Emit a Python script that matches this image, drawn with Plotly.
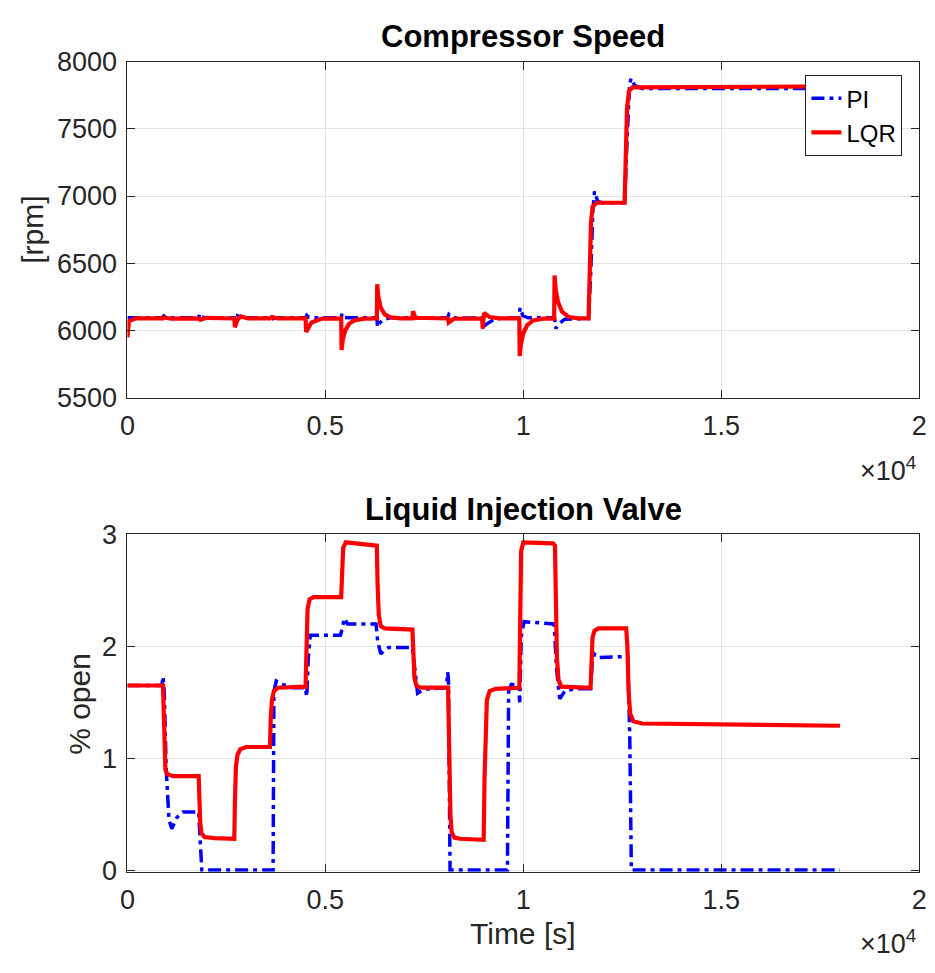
import plotly.graph_objects as go

# Compressor speed [rpm] vs time [s]
t_speed_pi = [0, 880, 920, 980, 1060, 1800, 1830, 1880, 1980, 2700,
              2720, 2780, 2880, 3600, 3640, 3760, 4500, 4530, 4580, 4700,
              5400, 5420, 5470, 5580, 6300, 6320, 6380, 6500, 6650, 7200,
              7230, 7330, 8090, 8120, 8200, 8320, 8960, 8990, 9080, 9250,
              9450, 9890, 9920, 9990, 10120, 10790, 10820, 10900, 11050, 11650,
              11700, 11760, 11800, 11880, 12000, 12560, 12620, 12680, 12720, 12820,
              13000, 18000]
speed_pi = [6095, 6095, 6108, 6092, 6095, 6095, 6125, 6100, 6095, 6095,
            6055, 6110, 6095, 6095, 6085, 6095, 6095, 6112, 6098, 6095,
            6095, 6125, 6098, 6095, 6095, 6025, 6060, 6085, 6095, 6095,
            6105, 6095, 6095, 6120, 6100, 6092, 6095, 6030, 6050, 6080,
            6092, 6095, 6170, 6110, 6095, 6095, 6015, 6050, 6085, 6090,
            6400, 6900, 7035, 6960, 6950, 6950, 7400, 7800, 7875, 7820,
            7800, 7800]

t_speed_lqr = [0, 40, 200, 900, 940, 1100, 1800, 1840, 2000, 2700,
               2715, 2780, 2860, 3050, 3600, 3650, 3800, 4500, 4515, 4650,
               4900, 5400, 5410, 5440, 5500, 5600, 5750, 6000, 6300, 6310,
               6340, 6400, 6500, 6650, 6900, 7200, 7215, 7270, 8100, 8115,
               8250, 8960, 8975, 9010, 9150, 9400, 9900, 9910, 9940, 10000,
               10100, 10250, 10500, 10780, 10790, 10820, 10880, 10980, 11150, 11400,
               11650, 11680, 11710, 11750, 11850, 12560, 12590, 12620, 12670, 12760,
               18000]
speed_lqr = [5950, 6070, 6090, 6090, 6098, 6088, 6090, 6080, 6095, 6090,
             6025, 6080, 6105, 6090, 6090, 6100, 6090, 6090, 5990, 6060,
             6088, 6090, 5855, 5930, 6000, 6050, 6078, 6088, 6090, 6345,
             6250, 6170, 6120, 6098, 6090, 6090, 6145, 6095, 6090, 6060,
             6088, 6090, 6015, 6130, 6100, 6090, 6090, 5810, 5900, 5980,
             6040, 6075, 6088, 6088, 6410, 6300, 6210, 6140, 6100, 6090,
             6090, 6400, 6800, 6920, 6950, 6950, 7300, 7650, 7780, 7808,
             7815]

# Liquid injection valve [% open] vs time [s]
t_valve_pi = [0, 870, 900, 930, 980, 1050, 1120, 1250, 1400, 1800,
              1840, 1880, 3680, 3700, 3760, 3900, 4200, 4490, 4530, 4570,
              4620, 5380, 5420, 5480, 5560, 6280, 6320, 6400, 6470, 6600,
              7200, 7250, 7330, 7420, 7600, 8060, 8090, 8110, 8150, 9600,
              9630, 9700, 9880, 9910, 9950, 10020, 10780, 10840, 10920, 11050,
              11300, 11700, 11740, 11800, 11900, 12640, 12690, 12730, 18000]
valve_pi = [1.65, 1.65, 1.73, 1.6, 0.9, 0.45, 0.37, 0.47, 0.52, 0.52,
            0.25, 0.0, 0.0, 1.6, 1.69, 1.66, 1.63, 1.63, 1.55, 1.9,
            2.1, 2.1, 2.15, 2.25, 2.2, 2.2, 2.05, 1.93, 1.96, 1.99,
            1.99, 1.85, 1.58, 1.6, 1.62, 1.63, 1.77, 1.7, 0.0, 0.0,
            1.6, 1.66, 1.65, 1.5, 2.1, 2.22, 2.2, 1.8, 1.53, 1.6,
            1.62, 1.62, 1.85, 1.93, 1.9, 1.91, 1.2, 0.0, 0.0]

t_valve_lqr = [0, 900, 915, 935, 960, 1000, 1150, 1800, 1815, 1840,
               1870, 1950, 2200, 2700, 2715, 2740, 2780, 2850, 3000, 3600,
               3620, 3650, 3700, 3800, 4500, 4520, 4550, 4600, 4700, 5400,
               5420, 5450, 5520, 6250, 6300, 6320, 6350, 6400, 6500, 7200,
               7220, 7250, 7300, 7400, 8100, 8130, 8160, 8190, 8260, 8400,
               9000, 9020, 9045, 9080, 9150, 9300, 9900, 9920, 9945, 10000,
               10750, 10800, 10820, 10850, 10890, 10960, 11700, 11720, 11750, 11800,
               11900, 12600, 12630, 12660, 12700, 12780, 13000, 18000]
valve_lqr = [1.65, 1.65, 1.45, 1.05, 0.9, 0.86, 0.84, 0.84, 0.65, 0.42,
             0.33, 0.295, 0.285, 0.28, 0.6, 0.92, 1.03, 1.08, 1.1, 1.1,
             1.35, 1.52, 1.6, 1.63, 1.64, 2.05, 2.33, 2.42, 2.44, 2.44,
             2.75, 2.88, 2.93, 2.91, 2.9, 2.55, 2.28, 2.18, 2.16, 2.15,
             1.9, 1.72, 1.65, 1.63, 1.63, 1.0, 0.5, 0.34, 0.29, 0.28,
             0.27, 0.8, 1.3, 1.52, 1.6, 1.62, 1.63, 2.5, 2.85, 2.93,
             2.92, 2.9, 2.5, 1.9, 1.7, 1.64, 1.63, 1.9, 2.08, 2.14,
             2.16, 2.16, 2.0, 1.6, 1.4, 1.33, 1.31, 1.29]

# axis ticks (x is shown in units of 1e4 s, MATLAB style)
x_tickvals = [0, 5000, 10000, 15000, 20000]
x_ticktext = ["0", "0.5", "1", "1.5", "2"]
speed_ticks = [5500, 6000, 6500, 7000, 7500, 8000]
valve_ticks = [0, 1, 2, 3]

FONT = "Liberation Sans, Arial, sans-serif"
INK = "#262626"
GRID = "#e3e3e3"
W, H = 935, 973
PI_LINE = dict(color="#0000ff", width=3.5, dash="13px,5px,4px,5px")
LQR_LINE = dict(color="#ff0000", width=4.2)

fig = go.Figure()

fig.add_trace(go.Scatter(x=t_speed_pi, y=speed_pi, name="PI", mode="lines",
                         line=PI_LINE, xaxis="x", yaxis="y"))
fig.add_trace(go.Scatter(x=t_speed_lqr, y=speed_lqr, name="LQR", mode="lines",
                         line=LQR_LINE, xaxis="x", yaxis="y"))
fig.add_trace(go.Scatter(x=t_valve_pi, y=valve_pi, name="PI", mode="lines", showlegend=False,
                         line=PI_LINE, xaxis="x2", yaxis="y2"))
fig.add_trace(go.Scatter(x=t_valve_lqr, y=valve_lqr, name="LQR", mode="lines", showlegend=False,
                         line=LQR_LINE, xaxis="x2", yaxis="y2"))

# pixel boxes of the two axes in the reference
x0, x1 = 121.5, 927
top_y0, top_y1 = 48, 395
bot_y0, bot_y1 = 536, 884

axis_common = dict(showline=True, linecolor=INK, linewidth=1, mirror="ticks",
                   ticks="inside", ticklen=8, tickcolor=INK,
                   showgrid=True, gridcolor=GRID, gridwidth=1, zeroline=False,
                   tickfont=dict(family=FONT, size=27, color=INK))

fig.update_layout(
    width=W, height=H,
    margin=dict(l=0, r=0, t=0, b=0),
    paper_bgcolor="white", plot_bgcolor="white",
    font=dict(family=FONT, color=INK),
    xaxis=dict(domain=[x0 / W, x1 / W], range=[0, 20000], anchor="y",
               tickvals=x_tickvals, ticktext=x_ticktext, ticklabelstandoff=4, **axis_common),
    yaxis=dict(domain=[1 - top_y1 / H, 1 - top_y0 / H], range=[5500, 8000], anchor="x",
               tickvals=speed_ticks, ticklabelstandoff=4, **axis_common),
    xaxis2=dict(domain=[x0 / W, x1 / W], range=[0, 20000], anchor="y2",
                tickvals=x_tickvals, ticktext=x_ticktext, ticklabelstandoff=4, **axis_common),
    # tiny pad below 0 so the PI line resting on zero is not half clipped
    yaxis2=dict(domain=[1 - bot_y1 / H, 1 - bot_y0 / H], range=[-0.015, 3], anchor="x2",
                tickvals=valve_ticks, ticklabelstandoff=4, **axis_common),
    legend=dict(x=910 / W, y=1 - 62 / H, xanchor="right", yanchor="top",
                bgcolor="white", bordercolor=INK, borderwidth=1,
                font=dict(family=FONT, size=24, color="black"),
                itemwidth=30, tracegroupgap=0),
    showlegend=True,
)

mid = (x0 + x1) / 2 / W
texts = [
    ("<b>Compressor Speed</b>", mid, 22, 31, "black"),
    ("<b>Liquid Injection Valve</b>", mid, 510, 31, "black"),
    ("Time [s]", mid, 948, 30, INK),
    ("×10<sup>4</sup>", 895 / W, 468, 27, INK),
    ("×10<sup>4</sup>", 895 / W, 956, 27, INK),
]
for text, x, y, size, color in texts:
    fig.add_annotation(text=text, x=x, y=1 - y / H, xref="paper", yref="paper",
                       showarrow=False, xanchor="center", yanchor="middle",
                       font=dict(family=FONT, size=size, color=color))

fig.add_annotation(text="[rpm]", x=25 / W, y=1 - 222 / H, xref="paper", yref="paper",
                   showarrow=False, textangle=-90, xanchor="center", yanchor="middle",
                   font=dict(family=FONT, size=30, color=INK))
fig.add_annotation(text="% open", x=72 / W, y=1 - 711 / H, xref="paper", yref="paper",
                   showarrow=False, textangle=-90, xanchor="center", yanchor="middle",
                   font=dict(family=FONT, size=30, color=INK))

# drop the browser's default 8px page margin so the figure sits at (0, 0)
fig.write_html("out.html", config={"displayModeBar": False},
               post_script="document.body.style.margin='0px';")
